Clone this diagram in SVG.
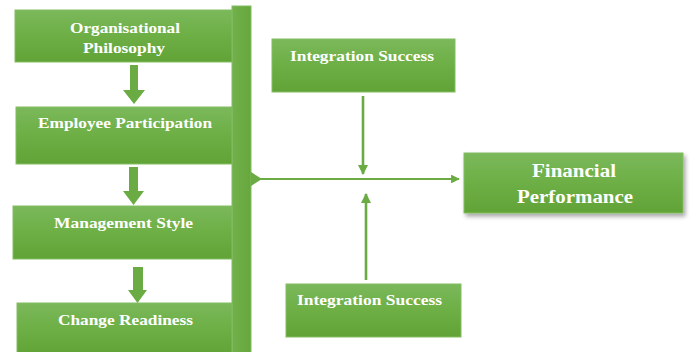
<svg xmlns="http://www.w3.org/2000/svg" width="690" height="352" viewBox="0 0 690 352">
  <defs>
    <linearGradient id="gFill" x1="0" y1="0" x2="0" y2="1">
      <stop offset="0" stop-color="#7bb85b"/>
      <stop offset="0.5" stop-color="#6daf45"/>
      <stop offset="1" stop-color="#62a337"/>
    </linearGradient>
    <linearGradient id="gBar" x1="0" y1="0" x2="1" y2="0">
      <stop offset="0" stop-color="#72b04b"/>
      <stop offset="1" stop-color="#66a73d"/>
    </linearGradient>
    <filter id="shadow" x="-10%" y="-20%" width="125%" height="150%">
      <feDropShadow dx="2" dy="3" stdDeviation="2" flood-color="#000" flood-opacity="0.35"/>
    </filter>
    <marker id="head" viewBox="0 0 10 10" refX="9" refY="5" markerWidth="4" markerHeight="4" orient="auto">
      <path d="M0,0 L10,5 L0,10 Z" fill="#6aac43"/>
    </marker>
    <clipPath id="clip1"><rect x="15" y="10" width="217" height="52"/></clipPath>
  </defs>
  <style>
    .box { fill: url(#gFill); stroke: #82bd63; stroke-width: 1; }
    .lbl { font-family: "Liberation Serif", "Times New Roman", serif; font-weight: bold; font-size: 15.5px; fill: #ffffff; }
    .big { font-size: 18.5px; }
    .line { stroke: #6aac43; fill: none; }
    .fat { fill: #6aac43; }
  </style>

  <!-- vertical collector bar -->
  <g id="bar">
    <rect x="232" y="6" width="19" height="350" fill="url(#gBar)" stroke="#82bd63" stroke-width="1"/>
  </g>

  <g id="n1">
    <rect class="box" x="15" y="10" width="217" height="52"/>
    <g clip-path="url(#clip1)">
      <text class="lbl" x="70" y="33" textLength="110" lengthAdjust="spacingAndGlyphs">Organisational</text>
      <text class="lbl" x="83" y="53" textLength="82" lengthAdjust="spacingAndGlyphs">Philosophy</text>
    </g>
  </g>
  <g id="n2">
    <rect class="box" x="16" y="107" width="216" height="57"/>
    <text class="lbl" x="38" y="128" textLength="174" lengthAdjust="spacingAndGlyphs">Employee Participation</text>
  </g>
  <g id="n3">
    <rect class="box" x="13" y="206" width="219" height="53"/>
    <text class="lbl" x="54" y="228" textLength="139" lengthAdjust="spacingAndGlyphs">Management Style</text>
  </g>
  <g id="n4">
    <rect class="box" x="17" y="303" width="215" height="52"/>
    <text class="lbl" x="58" y="325" textLength="135" lengthAdjust="spacingAndGlyphs">Change Readiness</text>
  </g>
  <g id="n5">
    <rect class="box" x="272" y="39" width="183" height="53"/>
    <text class="lbl" x="290" y="61" textLength="144" lengthAdjust="spacingAndGlyphs">Integration Success</text>
  </g>
  <g id="n6">
    <rect class="box" x="286" y="284" width="175" height="53"/>
    <text class="lbl" x="297" y="305" textLength="145" lengthAdjust="spacingAndGlyphs">Integration Success</text>
  </g>
  <g id="n7">
    <rect class="box" x="464" y="153" width="219" height="60" filter="url(#shadow)"/>
    <text class="lbl big" x="532" y="177" textLength="84" lengthAdjust="spacingAndGlyphs">Financial</text>
    <text class="lbl big" x="517" y="203" textLength="116" lengthAdjust="spacingAndGlyphs">Performance</text>
  </g>

  <g id="connectors">
    <!-- block arrows between left boxes -->
    <path class="fat" d="M130,65 H138 V90 H145 L134,104 L123,90 H130 Z"/>
    <path class="fat" d="M129,167 H138 V191 H144 L133.5,205 L123,191 H129 Z"/>
    <path class="fat" d="M133,267 H143 V290 H147 L137.5,303 L128,290 H133 Z"/>
    <!-- bar to financial performance -->
    <path class="fat" d="M251,172 L262,179 L251,186 Z"/>
    <line class="line" x1="251" y1="179" x2="459" y2="179" stroke-width="2.2" marker-end="url(#head)"/>
    <!-- integration success arrows -->
    <line class="line" x1="363" y1="96" x2="363" y2="174" stroke-width="2.6" marker-end="url(#head)"/>
    <line class="line" x1="366" y1="280" x2="366" y2="194" stroke-width="2.6" marker-end="url(#head)"/>
  </g>
</svg>
